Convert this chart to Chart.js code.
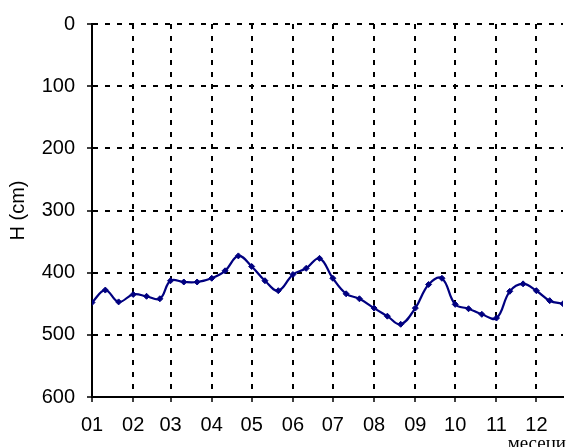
<!DOCTYPE html>
<html>
<head>
<meta charset="utf-8">
<script src="https://cdn.jsdelivr.net/npm/chart.js@4"></script>
<style>
  html, body { margin: 0; padding: 0; background: #ffffff; }
  #wrap { width: 568px; height: 447px; }
</style>
</head>
<body>
<div id="wrap"><canvas id="c" width="568" height="447"></canvas></div>
<script>
// Day of year (0 = 1 Jan) of each dekadal observation
const days = [0,10,20, 31,41,51, 59,69,79, 90,100,110, 120,130,140, 151,161,171,
              181,191,201, 212,222,232, 243,253,263, 273,283,293, 304,314,324, 334,344,354];
// Water level H (cm)
const levels = [448,428,447, 435,438,442, 413,415,415, 409,397,373, 390,413,429, 403,393,377,
                409,434,442, 457,470,483, 457,419,409, 451,458,467, 473,430,418, 429,445,450];
// Month start positions (day of year) and their labels
const monthStarts = [0,31,59,90,120,151,181,212,243,273,304,334];
const monthLabels = ['01','02','03','04','05','06','07','08','09','10','11','12'];
const yTicks = [0,100,200,300,400,500,600];
const yTitle = 'H (cm)';
const xTitle = 'месеци';

const sans = "'Liberation Sans', Arial, sans-serif";

const xTitlePlugin = {
  id: 'xTitle',
  afterDraw(chart) {
    const ctx = chart.ctx;
    ctx.save();
    ctx.font = "19px 'Liberation Serif', 'Times New Roman', serif";
    ctx.fillStyle = '#000';
    ctx.textAlign = 'right';
    ctx.textBaseline = 'alphabetic';
    ctx.fillText(xTitle, 566, 449);
    ctx.restore();
  }
};

new Chart(document.getElementById('c'), {
  type: 'line',
  data: {
    datasets: [{
      data: days.map((d, i) => ({ x: d, y: levels[i] })),
      borderColor: '#000080',
      backgroundColor: '#000080',
      borderWidth: 2.2,
      pointStyle: 'rectRot',
      pointRadius: 3,
      pointBorderWidth: 1,
      tension: 0.4,
      fill: false
    }]
  },
  options: {
    responsive: false,
    devicePixelRatio: 1,
    animation: false,
    layout: { padding: { top: 22, right: 5, left: 0, bottom: 0 } },
    plugins: { legend: { display: false }, tooltip: { enabled: false } },
    scales: {
      x: {
        type: 'linear',
        min: 0,
        max: 354,
        afterBuildTicks(scale) { scale.ticks = monthStarts.map(v => ({ value: v })); },
        afterFit(scale) { scale.height = 50; },
        ticks: {
          autoSkip: false,
          maxRotation: 0,
          minRotation: 0,
          padding: 11,
          color: '#000',
          font: { family: sans, size: 20 },
          callback(v) { const i = monthStarts.indexOf(v); return i >= 0 ? monthLabels[i] : ''; }
        },
        grid: { color: '#000', lineWidth: 2, tickLength: 5, tickColor: '#000', tickWidth: 1.5 },
        border: { display: true, color: '#000', width: 2, dash: [5, 7] }
      },
      y: {
        reverse: true,
        min: 0,
        max: 600,
        afterBuildTicks(scale) { scale.ticks = yTicks.map(v => ({ value: v })); },
        afterFit(scale) { scale.width = 92; },
        ticks: {
          padding: 12,
          color: '#000',
          font: { family: sans, size: 20 }
        },
        title: {
          display: true,
          text: yTitle,
          color: '#000',
          font: { family: sans, size: 20 },
          padding: { top: 6, bottom: 0 }
        },
        grid: { color: '#000', lineWidth: 2, tickLength: 5, tickColor: '#000', tickWidth: 1.5 },
        border: { display: true, color: '#000', width: 2, dash: [5, 7] }
      }
    }
  },
  plugins: [xTitlePlugin]
});
</script>
</body>
</html>
